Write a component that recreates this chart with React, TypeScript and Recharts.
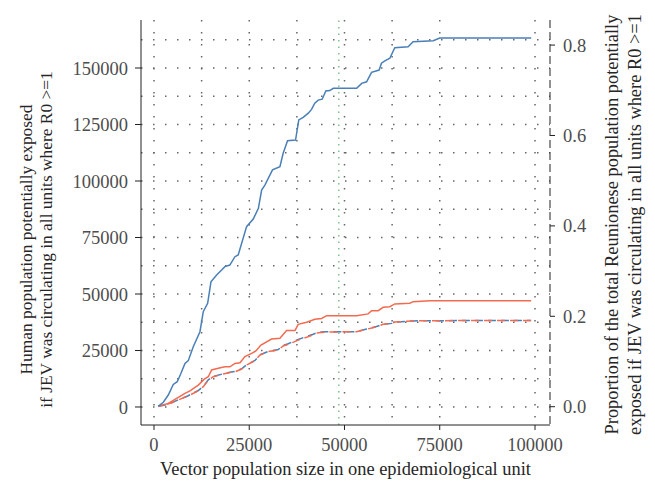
import { LineChart, Line, XAxis, YAxis, CartesianGrid, ReferenceLine } from 'recharts'

// vector population size (x) and people exposed (y)
const humanX = [1100, 2450, 3750, 5060, 6100, 7000, 8130, 9000, 10300, 12060, 12930, 14080, 14950, 16440, 17750, 18600, 19900, 21250, 22100, 24300, 26050, 27400, 28250, 29100, 31100, 33050, 33900, 35050, 37150, 38000, 39150, 40500, 41350, 42200, 43100, 44150, 45100, 46150, 47050, 53200, 54500, 55800, 57100, 59100, 59700, 60600, 61900, 63200, 66700, 68000, 73300, 75000, 99000]
const humanY = [300, 2100, 5300, 10000, 11200, 14600, 19300, 20500, 26700, 33300, 42200, 45900, 55400, 58400, 60600, 62100, 62800, 66500, 67300, 79800, 83200, 87900, 96000, 98200, 104900, 106300, 112300, 117800, 118100, 127000, 128200, 130000, 131700, 134400, 135800, 136200, 139800, 140000, 141000, 141000, 143200, 143900, 148100, 149100, 152100, 153200, 154300, 159000, 159400, 161600, 162100, 163300, 163300]

const redX = [1100, 3750, 5500, 8130, 9440, 11620, 13200, 14250, 15130, 16870, 18620, 19930, 21250, 22560, 23870, 25620, 26750, 28070, 30870, 33050, 34800, 37000, 37850, 40050, 42230, 43990, 45300, 53170, 56200, 57100, 58830, 60150, 61900, 63200, 67150, 68000, 72400, 99000]
const redY = [300, 1600, 3400, 6000, 7100, 9700, 12300, 13400, 16400, 17100, 17800, 17800, 19300, 19600, 22300, 23700, 24800, 27400, 30100, 30400, 33800, 33800, 36600, 37500, 38800, 39200, 40400, 40400, 41200, 42600, 42600, 44100, 44400, 45600, 45900, 46600, 47000, 47000]

const dashX = [1100, 2900, 4640, 6370, 9000, 11620, 12930, 14250, 15560, 18180, 19930, 21250, 23000, 24300, 26500, 27800, 30000, 32600, 33900, 35230, 37850, 41800, 43100, 45300, 53170, 55800, 58400, 60150, 62350, 63200, 68000, 72400, 99000]
const dashRedY = [300, 900, 1900, 3100, 4900, 7200, 9000, 11900, 13400, 14600, 15300, 15600, 16800, 18600, 20500, 23000, 24500, 25200, 27000, 27700, 29600, 31900, 32900, 33200, 33300, 34400, 35500, 36600, 37000, 37600, 38100, 38200, 38300]
const dashBlueY = [300, 900, 1900, 3200, 5000, 7300, 9100, 12000, 13500, 14700, 15400, 15700, 16900, 18700, 20600, 23100, 24600, 25400, 27200, 28000, 29900, 32200, 33100, 33300, 33300, 34500, 35600, 36600, 37000, 37600, 38100, 38200, 38300]

const leftTicks = [0, 25000, 50000, 75000, 100000, 125000, 150000]
const rightTicks = [0, 0.2, 0.4, 0.6, 0.8]
const xTicks = [0, 25000, 50000, 75000, 100000]
const gridY = [0, 12500, 25000, 37500, 50000, 62500, 75000, 87500, 100000, 112500, 125000, 137500, 150000, 162500]
const gridX = [0, 12500, 25000, 37500, 50000, 62500, 75000, 87500, 100000]
const markerX = 48500

const leftTitle = ['Human population potentially exposed', 'if JEV was circulating in all units where R0 >=1']
const rightTitle = ['Proportion of the total Reunionese population potentially', 'exposed if JEV was circulating in all units where R0 >=1']
const xTitle = 'Vector population size in one epidemiological unit'

const toPts = (xs: number[], ys: number[]) => xs.map((x, i) => ({ x, y: ys[i] }))

const FONT = "'Liberation Serif', 'DejaVu Serif', serif"
const TICK_FS = 18.5
const TITLE_FS = 18.4

// tick text, with the font set through style so it sticks
function Tick(props: any) {
  const { x, y, payload, textAnchor, fmt } = props
  const label = fmt ? fmt(payload.value) : String(payload.value)
  const anchor = textAnchor || 'middle'
  const dy = anchor === 'middle' ? '0.71em' : '0.355em'
  return (
    <text x={x} y={y} dy={dy} textAnchor={anchor} fill="#4d4d4d" fontSize={TICK_FS} style={{ fontFamily: FONT }}>
      {label}
    </text>
  )
}

function SideTitle(props: any) {
  const { viewBox, lines, side, size } = props
  const cy = viewBox.y + viewBox.height / 2 + (side === 'left' ? 17 : 2)
  const xs = side === 'left' ? [26, 46] : [612, 635]
  return (
    <g>
      {lines.map((l: string, i: number) => (
        <text key={i} x={xs[i]} y={cy} transform={`rotate(-90 ${xs[i]} ${cy})`} textAnchor="middle"
          dominantBaseline="central" fontSize={size} style={{ fontFamily: FONT }} fill="#262626">{l}</text>
      ))}
    </g>
  )
}

export default function App() {
  return (
    <div style={{ position: 'absolute', left: 0, top: 0, background: '#fff', fontFamily: FONT }}>
      <LineChart width={655} height={487} margin={{ top: 20, right: 0, bottom: 0, left: 0 }} style={{ fontFamily: FONT }}>
        <CartesianGrid yAxisId="left" horizontalValues={gridY} verticalValues={gridX}
          stroke="#666" strokeWidth={1.5} strokeDasharray="1.5 10.5" />
        <XAxis type="number" dataKey="x" domain={[-3412, 103937]} ticks={xTicks} allowDataOverflow
          height={62} tick={<Tick />} tickSize={5} tickMargin={8}
          axisLine={{ stroke: '#222' }} tickLine={{ stroke: '#222' }}
          label={{ value: xTitle, position: 'insideBottom', offset: 12, fontSize: TITLE_FS, fill: '#262626', style: { fontFamily: FONT } }} />
        <YAxis yAxisId="left" type="number" domain={[-7965, 171240]} ticks={leftTicks} allowDataOverflow
          width={141} tick={<Tick />} tickSize={6} tickMargin={7}
          axisLine={{ stroke: '#222' }} tickLine={{ stroke: '#222' }}
          label={<SideTitle lines={leftTitle} side="left" size={17.4} />} />
        <YAxis yAxisId="right" orientation="right" type="number" domain={[-0.0405, 0.8555]} ticks={rightTicks} allowDataOverflow
          width={105} tick={<Tick fmt={(v: number) => v.toFixed(1)} />} tickSize={5} tickMargin={8}
          axisLine={{ stroke: '#222', strokeDasharray: '8 4' }} tickLine={{ stroke: '#222' }}
          label={<SideTitle lines={rightTitle} side="right" size={TITLE_FS} />} />
        <ReferenceLine yAxisId="left" x={markerX} stroke="#7cc48a" strokeWidth={1.5} strokeDasharray="1.5 5" />
        <Line yAxisId="left" data={toPts(dashX, dashBlueY)} dataKey="y" stroke="#4a7fb8" strokeWidth={1.5}
          strokeDasharray="8 5" dot={false} isAnimationActive={false} />
        <Line yAxisId="left" data={toPts(dashX, dashRedY)} dataKey="y" stroke="#f26a50" strokeWidth={1.5}
          strokeDasharray="8 5" strokeDashoffset={4} dot={false} isAnimationActive={false} />
        <Line yAxisId="left" data={toPts(redX, redY)} dataKey="y" stroke="#f26a50" strokeWidth={1.5}
          dot={false} isAnimationActive={false} />
        <Line yAxisId="left" data={toPts(humanX, humanY)} dataKey="y" stroke="#4a7fb8" strokeWidth={1.5}
          dot={false} isAnimationActive={false} />
      </LineChart>
    </div>
  )
}
